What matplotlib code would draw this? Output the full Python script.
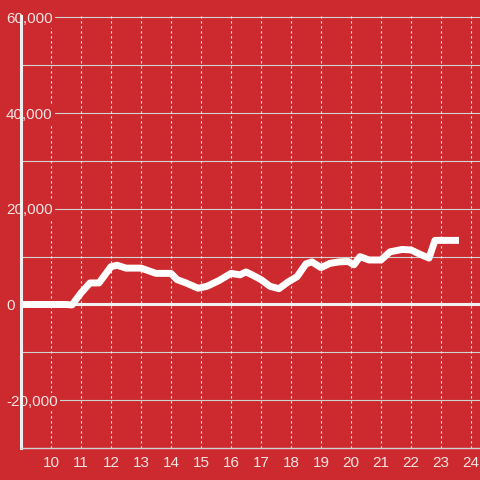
import matplotlib
matplotlib.use('Agg')
import matplotlib.pyplot as plt

# hour of day vs cumulative value
hours = [9.0, 10.5, 10.7, 11.0, 11.3, 11.6, 12.0, 12.2, 12.5, 13.0, 13.5, 14.0, 14.2, 14.5,
         14.9, 15.2, 15.6, 16.0, 16.3, 16.5, 16.7, 17.0, 17.3, 17.6, 17.9, 18.2, 18.5, 18.7,
         19.0, 19.3, 19.6, 19.9, 20.1, 20.3, 20.6, 21.0, 21.3, 21.7, 22.0, 22.3, 22.6, 22.8, 23.6]
values = [0, 0, -100, 2400, 4500, 4500, 7900, 8200, 7600, 7600, 6500, 6500, 5200, 4500,
          3400, 3800, 5000, 6500, 6200, 6800, 6200, 5200, 3800, 3300, 4700, 5800, 8500, 8900,
          7700, 8600, 8900, 9000, 8300, 10000, 9300, 9300, 11000, 11500, 11400, 10500, 9700, 13400, 13400]

x_ticks = list(range(10, 25))
y_ticks = [-20000, 0, 20000, 40000, 60000]
y_grid = [-20000, -10000, 10000, 20000, 30000, 40000, 50000, 60000]

bg = '#cc2a2e'
txt = '#f5e4e4'

plt.rcParams['font.family'] = ['Liberation Sans', 'DejaVu Sans']

fig = plt.figure(figsize=(4.8, 4.8), dpi=100, facecolor=bg)
ax = fig.add_axes([21 / 480, 32 / 480, 459 / 480, 1 - 48 / 480])
ax.set_facecolor(bg)

ax.set_xlim(9.0, 24.3)
ax.set_ylim(-30000, 60300)

for g in y_grid:
    ax.axhline(g, color='#d2d2d2', lw=0.8, zorder=1)
for h in x_ticks:
    ax.axvline(h, color='#f2f2f2', lw=0.8, ls=(0, (2, 2.5)), zorder=1)
ax.axhline(0, color='#f0f0f0', lw=2.2, zorder=1.5)

ax.plot(hours, values, color='white', lw=5.0, solid_joinstyle='round',
        solid_capstyle='butt', zorder=2)

for side in ['top', 'right']:
    ax.spines[side].set_visible(False)
ax.spines['left'].set_color('#f0f0f0')
ax.spines['left'].set_linewidth(2.2)
ax.spines['bottom'].set_color('#d2d2d2')
ax.spines['bottom'].set_linewidth(1.0)

ax.set_xticks(x_ticks)
ax.set_xticklabels([str(h) for h in x_ticks])
ax.set_yticks(y_ticks)
ax.set_yticklabels(['{:,}'.format(v) if v >= 0 else '-{:,}'.format(-v) for v in y_ticks])
ax.tick_params(axis='x', length=0, pad=6, labelsize=11, labelcolor=txt)
ax.tick_params(axis='y', length=0, pad=10.8, labelsize=11, labelcolor=txt)
for lbl in ax.get_yticklabels():
    lbl.set_horizontalalignment('left')
    lbl.set_bbox(dict(facecolor=bg, edgecolor='none', pad=1.5))

fig.savefig('out.png', dpi=100, facecolor=bg)
